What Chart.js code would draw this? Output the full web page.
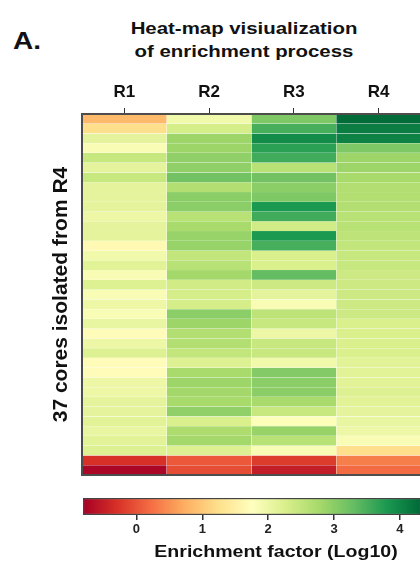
<!DOCTYPE html>
<html>
<head>
<meta charset="utf-8">
<script src="https://cdn.jsdelivr.net/npm/chart.js@4.4.1/dist/chart.umd.min.js"></script>
<style>
  html, body { margin: 0; padding: 0; background: #fff; overflow: hidden; }
  body { width: 420px; height: 563px; position: relative; font-family: 'Liberation Sans', Arial, sans-serif; color: #111; }
  .txt { position: absolute; font-weight: bold; white-space: nowrap; }
  #panel { left: 13px; top: 29px; font-size: 23px; line-height: 24px; transform: scaleX(1.22); transform-origin: left center; }
  #title { left: 104px; width: 280px; top: 17px; font-size: 17px; line-height: 23px; text-align: center; transform: scaleX(1.2); }
  #cbTitle { left: 136px; width: 280px; top: 542px; font-size: 17px; line-height: 20px; text-align: center; transform: scaleX(1.15); }
  #heat { position: absolute; left: 0; top: 0; }
  #bar { position: absolute; left: 0; top: 480px; }
</style>
</head>
<body>
<div id="panel" class="txt">A.</div>
<div id="title" class="txt">Heat-map visiualization<br>of enrichment process</div>
<canvas id="heat" width="422" height="476"></canvas>
<canvas id="bar" width="422" height="83"></canvas>
<div id="cbTitle" class="txt">Enrichment factor (Log10)</div>
<script>
// enrichment factor (log10) of each of the 37 cores, per round
const rounds = ["R1", "R2", "R3", "R4"];
const r1 = [0.85, 1.25, 2.1, 1.85, 2.45, 2.1, 2.45, 2.1, 2.1, 2.1, 2.0, 2.1, 2.1, 1.65,
  1.95, 2.15, 1.85, 2.2, 1.85, 2.0, 1.85, 2.05, 1.7, 2.0, 2.2, 1.7, 1.7, 2.0,
  2.0, 2.1, 2.1, 2.15, 2.05, 2.15, 2.2, -0.3, -0.75];
const r2 = [1.95, 2.3, 2.85, 2.85, 2.95, 2.95, 3.2, 2.65, 3.0, 3.0, 2.6, 2.75, 2.9, 2.9,
  2.5, 2.6, 2.8, 2.35, 2.3, 2.3, 3.0, 2.85, 2.65, 2.65, 2.5, 2.2, 2.75, 2.85,
  2.8, 2.75, 2.95, 2.25, 2.7, 2.8, 2.2, 0.05, -0.05];
const r3 = [3.1, 3.5, 3.95, 3.7, 3.55, 2.6, 3.2, 3.0, 3.1, 3.8, 3.55, 2.35, 3.8, 3.5,
  2.25, 2.25, 3.3, 2.4, 2.1, 1.85, 2.55, 2.45, 2.0, 2.45, 2.45, 1.95, 3.05, 3.0,
  3.0, 2.75, 2.45, 1.8, 2.9, 2.6, 1.85, -0.2, -0.5];
const r4 = [4.28, 4.1, 4.05, 3.1, 2.85, 2.85, 2.75, 2.65, 2.65, 2.65, 2.6, 2.6, 2.55, 2.5,
  2.45, 2.45, 2.4, 2.4, 2.4, 2.4, 2.4, 2.25, 2.25, 2.25, 2.25, 2.15, 2.15, 2.15,
  2.2, 2.15, 2.1, 2.05, 2.0, 1.85, 1.25, 0.35, 0.2];
const colorTicks = [0, 1, 2, 3, 4];

const vmin = -0.81, vmax = 4.32;
const palette = ["#a50026", "#d73027", "#f46d43", "#fdae61", "#fee08b", "#ffffbf",
  "#d9ef8b", "#a6d96a", "#66bd63", "#1a9850", "#006837"];

function hex(c) {
  return [1, 3, 5].map(i => parseInt(c.slice(i, i + 2), 16));
}
function colorFor(v) {
  let f = (v - vmin) / (vmax - vmin);
  f = Math.max(0, Math.min(1, f)) * (palette.length - 1);
  const i = Math.min(Math.floor(f), palette.length - 2);
  const t = f - i;
  const a = hex(palette[i]), b = hex(palette[i + 1]);
  const m = a.map((x, k) => Math.round(x + (b[k] - x) * t));
  return "rgb(" + m.join(",") + ")";
}

const font = "'Liberation Sans', Arial, sans-serif";
const cols = [r1, r2, r3, r4];
const rows = r1.map((_, i) => cols.map(c => c[i]));

const frame = {
  id: "frame",
  afterDatasetsDraw(chart) {
    const { ctx, chartArea: a } = chart;
    ctx.save();
    ctx.strokeStyle = "#4d4d4d";
    ctx.lineWidth = 2;
    ctx.strokeRect(a.left, a.top, a.right - a.left, a.bottom - a.top);
    ctx.restore();
  }
};

new Chart(document.getElementById("heat"), {
  type: "bar",
  data: {
    labels: rounds,
    datasets: rows.map(row => ({
      data: row.map(() => 1),
      backgroundColor: row.map(colorFor),
      borderColor: "rgba(255,255,255,0.25)",
      borderWidth: 0.5,
      barPercentage: 1,
      categoryPercentage: 1
    }))
  },
  options: {
    responsive: false,
    animation: false,
    layout: { padding: { top: 0, right: 1, bottom: 1, left: 0 } },
    plugins: { legend: { display: false }, tooltip: { enabled: false } },
    scales: {
      x: {
        position: "top",
        stacked: true,
        afterFit: s => { s.height = 114; },
        grid: { offset: false, drawOnChartArea: false, tickLength: 6, color: "#333", lineWidth: 1 },
        border: { display: false },
        ticks: { color: "#111", padding: 5, font: { family: font, size: 17, weight: "bold" } }
      },
      y: {
        stacked: true,
        reverse: true,
        min: 0,
        max: 37,
        afterFit: s => { s.width = 82; },
        grid: { display: false },
        border: { display: false },
        ticks: { display: false },
        title: {
          display: true,
          text: "37 cores isolated from R4",
          color: "#111",
          padding: { top: 49, bottom: 0 },
          font: { family: font, size: 21, weight: "bold" }
        }
      }
    }
  },
  plugins: [frame]
});

new Chart(document.getElementById("bar"), {
  type: "bar",
  data: {
    labels: ["scale"],
    datasets: [{
      data: [[vmin, vmax]],
      backgroundColor: ctx => {
        const chart = ctx.chart;
        if (!chart.chartArea) return null;
        const sx = chart.scales.x;
        const g = chart.ctx.createLinearGradient(sx.getPixelForValue(vmin), 0, sx.getPixelForValue(vmax), 0);
        palette.forEach((c, i) => g.addColorStop(i / (palette.length - 1), c));
        return g;
      },
      borderColor: "#444",
      borderWidth: 1.5,
      borderSkipped: false,
      barPercentage: 1,
      categoryPercentage: 1
    }]
  },
  options: {
    indexAxis: "y",
    responsive: false,
    animation: false,
    layout: { padding: { top: 18, right: 1, bottom: 0, left: 83 } },
    plugins: { legend: { display: false }, tooltip: { enabled: false } },
    scales: {
      y: { display: false },
      x: {
        type: "linear",
        min: vmin,
        max: vmax,
        afterFit: s => { s.height = 48; },
        afterBuildTicks: s => { s.ticks = colorTicks.map(v => ({ value: v })); },
        grid: { drawOnChartArea: false, tickLength: 5, color: "#333", lineWidth: 1.5 },
        border: { display: false },
        ticks: { color: "#222", padding: 2, includeBounds: false, font: { family: font, size: 13, weight: "bold" } }
      }
    }
  }
});
</script>
</body>
</html>
